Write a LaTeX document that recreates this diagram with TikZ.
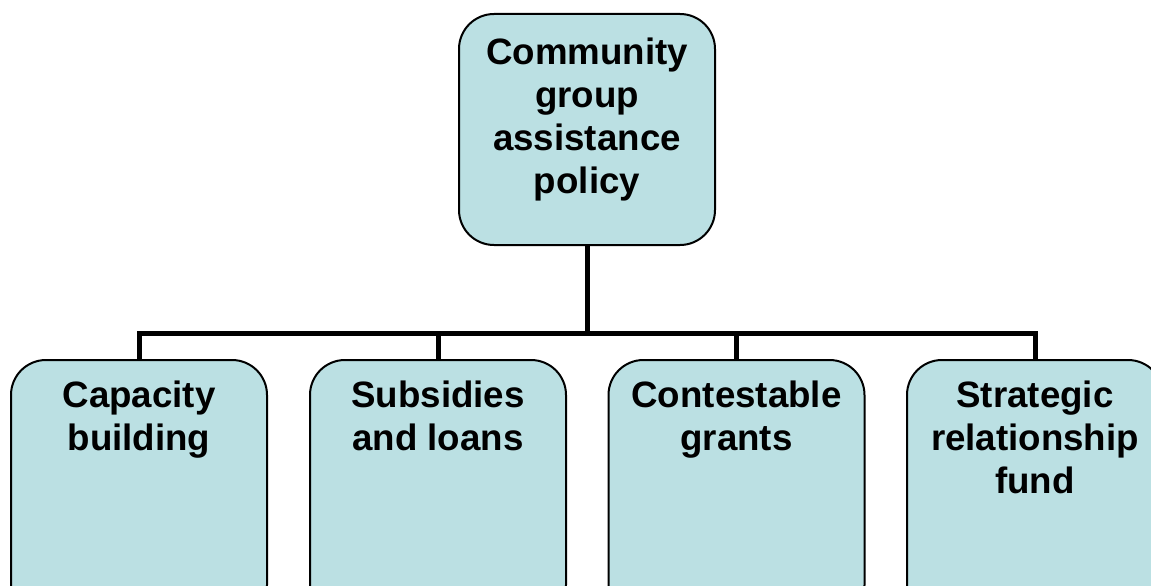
\documentclass[tikz,border=0pt]{standalone}
\usepackage{fontspec}
\setmainfont{Liberation Sans}
\definecolor{boxfill}{RGB}{187,224,227}
\begin{document}
\begin{tikzpicture}[x=1pt,y=-1pt,
  box/.style={draw=black,line width=2pt,fill=boxfill,rounded corners=35pt,
    minimum width=256pt,inner sep=0pt,outer sep=0pt},
  lbl/.style={anchor=north,align=center,inner sep=0pt,
    font=\fontsize{36.7}{43}\selectfont\bfseries},
  conn/.style={line width=5pt,line join=miter}]
\useasboundingbox (0,0) rectangle (1151,586);
\clip (0,0) rectangle (1151,586);
\node[box,minimum height=231pt] (top) at (587,129.5) {};
\node[box,minimum height=260pt] (b1) at (139,490) {};
\node[box,minimum height=260pt] (b2) at (438,490) {};
\node[box,minimum height=260pt] (b3) at (736.5,490) {};
\node[box,minimum height=260pt] (b4) at (1035,490) {};
\coordinate (bus) at (587,333);
\draw[conn] (top.south) -- (bus);
\draw[conn] (bus) -| (b1.north);
\draw[conn] (bus) -| (b2.north);
\draw[conn] (bus) -| (b3.north);
\draw[conn] (bus) -| (b4.north);
\node[lbl] (ttop) at (587,37.5) {Community\\group\\assistance\\policy};
\node[lbl] (t1) at (139,380.5) {Capacity\\building};
\node[lbl] (t2) at (438,380.5) {Subsidies\\and loans};
\node[lbl] (t3) at (736.5,380.5) {Contestable\\grants};
\node[lbl] (t4) at (1035,380.5) {Strategic\\relationship\\fund};
\end{tikzpicture}
\end{document}
